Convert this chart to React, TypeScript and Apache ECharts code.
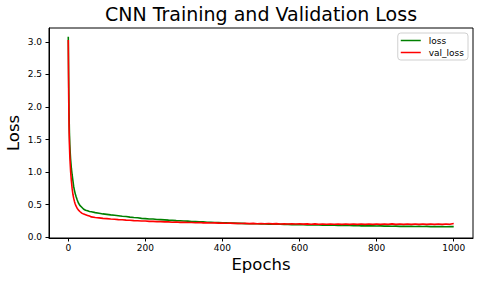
import React, { useEffect, useRef } from "react";
import * as echarts from "echarts";

const epochs = [
  0, 1, 2, 3, 4, 5, 6, 7, 8, 10, 12, 14, 16, 18, 20, 23, 26, 30, 35, 40, 45, 50, 55,
  60, 70, 80, 90, 100, 110, 120, 130, 140, 150, 160, 170, 180, 190, 200,
  210, 220, 230, 240, 250, 260, 270, 280, 290, 300, 310, 320, 330, 340, 350,
  360, 370, 380, 390, 400, 410, 420, 430, 440, 450, 460, 470, 480, 490, 500,
  510, 520, 530, 540, 550, 560, 570, 580, 590, 600, 610, 620, 630, 640, 650,
  660, 670, 680, 690, 700, 710, 720, 730, 740, 750, 760, 770, 780, 790, 800,
  810, 820, 830, 840, 850, 860, 870, 880, 890, 900, 910, 920, 930, 940, 950,
  960, 970, 980, 990, 1000,
];

const loss = [
  3.08, 2.45, 1.9, 1.6, 1.42, 1.3, 1.2, 1.13, 1.06, 0.96, 0.87, 0.78, 0.72, 0.67, 0.63, 0.575, 0.53, 0.49, 0.46, 0.43, 0.415, 0.405, 0.395,
  0.39, 0.378, 0.369, 0.358, 0.351, 0.343, 0.338, 0.331, 0.322, 0.318, 0.309, 0.303, 0.298, 0.29, 0.286,
  0.281, 0.279, 0.272, 0.27, 0.266, 0.262, 0.259, 0.255, 0.254, 0.249, 0.247, 0.242, 0.241, 0.236, 0.235,
  0.231, 0.23, 0.226, 0.225, 0.221, 0.22, 0.216, 0.217, 0.212, 0.213, 0.209, 0.208, 0.206, 0.207, 0.203,
  0.204, 0.2, 0.201, 0.199, 0.2, 0.196, 0.197, 0.194, 0.195, 0.192, 0.193, 0.189, 0.191, 0.187, 0.188,
  0.185, 0.187, 0.183, 0.184, 0.181, 0.183, 0.179, 0.181, 0.177, 0.179, 0.175, 0.177, 0.174, 0.175, 0.172,
  0.174, 0.17, 0.172, 0.169, 0.171, 0.167, 0.169, 0.166, 0.168, 0.165, 0.167, 0.164, 0.166, 0.163, 0.165,
  0.162, 0.164, 0.161, 0.163, 0.162,
];

const valLoss = [
  3.03, 2.2, 1.7, 1.42, 1.25, 1.13, 1.02, 0.94, 0.87, 0.75, 0.66, 0.6, 0.55, 0.51, 0.48, 0.445, 0.42, 0.395, 0.37, 0.355, 0.345, 0.335, 0.325,
  0.312, 0.302, 0.297, 0.29, 0.286, 0.279, 0.276, 0.27, 0.268, 0.262, 0.26, 0.255, 0.254, 0.249, 0.248,
  0.243, 0.244, 0.239, 0.24, 0.235, 0.236, 0.231, 0.233, 0.228, 0.23, 0.225, 0.227, 0.222, 0.225, 0.22,
  0.223, 0.218, 0.221, 0.216, 0.219, 0.214, 0.217, 0.212, 0.215, 0.21, 0.213, 0.209, 0.212, 0.207, 0.211,
  0.206, 0.21, 0.205, 0.209, 0.204, 0.208, 0.203, 0.207, 0.202, 0.206, 0.201, 0.205, 0.2, 0.205, 0.2,
  0.204, 0.199, 0.204, 0.199, 0.204, 0.198, 0.203, 0.198, 0.204, 0.198, 0.203, 0.197, 0.203, 0.198, 0.204,
  0.197, 0.203, 0.198, 0.205, 0.197, 0.203, 0.198, 0.204, 0.197, 0.203, 0.198, 0.204, 0.197, 0.203, 0.198,
  0.204, 0.197, 0.203, 0.199, 0.212,
];

const xTicks = [0, 200, 400, 600, 800, 1000];
const yTicks = [0, 0.5, 1, 1.5, 2, 2.5, 3];

const FONT = "DejaVu Sans";

export default function App() {
  const ref = useRef<HTMLDivElement>(null);
  useEffect(() => {
    if (!ref.current) return;
    const chart = echarts.init(ref.current, undefined, { renderer: "svg" });
    const axisLine = { show: true, onZero: false, lineStyle: { color: "#000", width: 1 } };
    const axisTick = { show: true, inside: false, length: 3.5, lineStyle: { color: "#000" } };
    chart.setOption({
      animation: false,
      backgroundColor: "#fff",
      title: {
        text: "CNN Training and Validation Loss",
        left: 261,
        top: 4,
        textAlign: "center",
        padding: 0,
        textStyle: { fontFamily: FONT, fontSize: 19, fontWeight: "normal", color: "#000" },
      },
      grid: {
        left: 49,
        right: 7,
        top: 28,
        bottom: 43,
        show: true,
        borderColor: "#000",
        borderWidth: 1,
        containLabel: false,
        outerBoundsMode: "none",
      },
      legend: {
        orient: "vertical",
        right: 12,
        top: 33,
        data: ["loss", "val_loss"],
        icon: "rect",
        itemWidth: 20,
        itemHeight: 1.5,
        itemGap: 3,
        padding: [3, 4, 3, 3],
        borderColor: "#d0d0d0",
        borderWidth: 1,
        borderRadius: 3,
        backgroundColor: "#fff",
        textStyle: { fontFamily: FONT, fontSize: 9, color: "#000", padding: [0, 0, 0, 3] },
      },
      xAxis: {
        type: "value",
        min: -50,
        max: 1050,
        axisLine,
        splitLine: { show: false },
        axisTick: { ...axisTick, customValues: xTicks },
        axisLabel: {
          customValues: xTicks,
          color: "#000",
          fontFamily: FONT,
          fontSize: 9,
          margin: 5,
          formatter: (v: number) => String(v),
        },
        name: "Epochs",
        nameLocation: "middle",
        nameGap: 18,
        nameMoveOverlap: false,
        nameTextStyle: { fontFamily: FONT, fontSize: 16.5, color: "#000", verticalAlign: "top" },
      },
      yAxis: {
        type: "value",
        min: -0.012,
        max: 3.214,
        axisLine,
        splitLine: { show: false },
        axisTick: { ...axisTick, customValues: yTicks },
        axisLabel: {
          customValues: yTicks,
          color: "#000",
          fontFamily: FONT,
          fontSize: 9,
          margin: 7,
          formatter: (v: number) => v.toFixed(1),
        },
        name: "Loss",
        nameLocation: "middle",
        nameGap: 27,
        nameRotate: 90,
        nameMoveOverlap: false,
        nameTextStyle: { fontFamily: FONT, fontSize: 16.5, color: "#000" },
      },
      series: [
        {
          name: "loss",
          type: "line",
          data: epochs.map((e, i) => [e, loss[i]]),
          showSymbol: false,
          symbol: "none",
          lineStyle: { color: "#008000", width: 1.6 },
          itemStyle: { color: "#008000" },
          z: 2,
        },
        {
          name: "val_loss",
          type: "line",
          data: epochs.map((e, i) => [e, valLoss[i]]),
          showSymbol: false,
          symbol: "none",
          lineStyle: { color: "#ff0000", width: 1.6 },
          itemStyle: { color: "#ff0000" },
          z: 3,
        },
      ],
    });
    return () => chart.dispose();
  }, []);
  return (
    <div
      ref={ref}
      style={{ position: "fixed", left: 0, top: 0, width: 480, height: 281, background: "#fff" }}
    />
  );
}
